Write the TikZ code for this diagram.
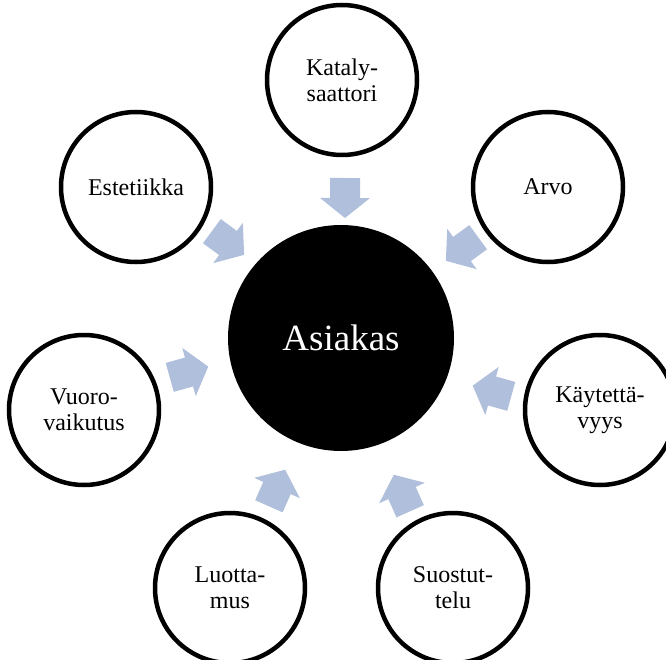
\documentclass[tikz,border=0pt]{standalone}
\usepackage{fontspec}
\setmainfont{Liberation Serif}
\usetikzlibrary{calc}
\definecolor{arrowblue}{RGB}{176,192,220}
\begin{document}
\begin{tikzpicture}[x=1pt,y=-1pt,
  sat/.style={circle, draw=black, line width=4.5pt, fill=white, minimum size=150pt, inner sep=0pt, align=center, font=\fontsize{24}{26}\selectfont},
  hub/.style={circle, fill=black, minimum size=226pt, inner sep=0pt, text=white, font=\fontsize{37}{44}\selectfont},
  blockarrow/.style={fill=arrowblue, draw=none}]
\useasboundingbox (0,0) rectangle (666,660);
\clip (0,0) rectangle (666,660);
\node[hub] (M) at (341,338) {Asiakas};
\node[sat] (kat) at (342,80) {Kataly-\\saattori};
\node[sat] (arvo) at (548,187) {Arvo};
\node[sat] (kayt) at (600,410) {Käytettä-\\vyys};
\node[sat] (suos) at (453,588) {Suostut-\\telu};
\node[sat] (luot) at (230,588) {Luotta-\\mus};
\node[sat] (vuor) at (84,410) {Vuoro-\\vaikutus};
\node[sat] (este) at (136,187) {Estetiikka};
\foreach \s/\ax/\ay in {kat/345/198,arvo/462/249,kayt/492/391,suos/402/493,luot/277/488,vuor/189/372,este/228/243}{
  \coordinate (\s-h) at (\ax,\ay);
  \coordinate (\s-d) at ($(\s-h)+(M)-(\s)$);
  \coordinate (\s-t) at ($(\s-h)!-20pt!(\s-d)$);
  \coordinate (\s-p) at ($(\s-h)!20pt!(\s-d)$);
  \fill[blockarrow] ($(\s-t)!15pt!90:(\s-d)$) -- ($(\s-h)!15pt!90:(\s-d)$) -- ($(\s-h)!25pt!90:(\s-d)$) -- (\s-p) -- ($(\s-h)!25pt!-90:(\s-d)$) -- ($(\s-h)!15pt!-90:(\s-d)$) -- ($(\s-t)!15pt!-90:(\s-d)$) -- cycle;
}
\end{tikzpicture}
\end{document}
